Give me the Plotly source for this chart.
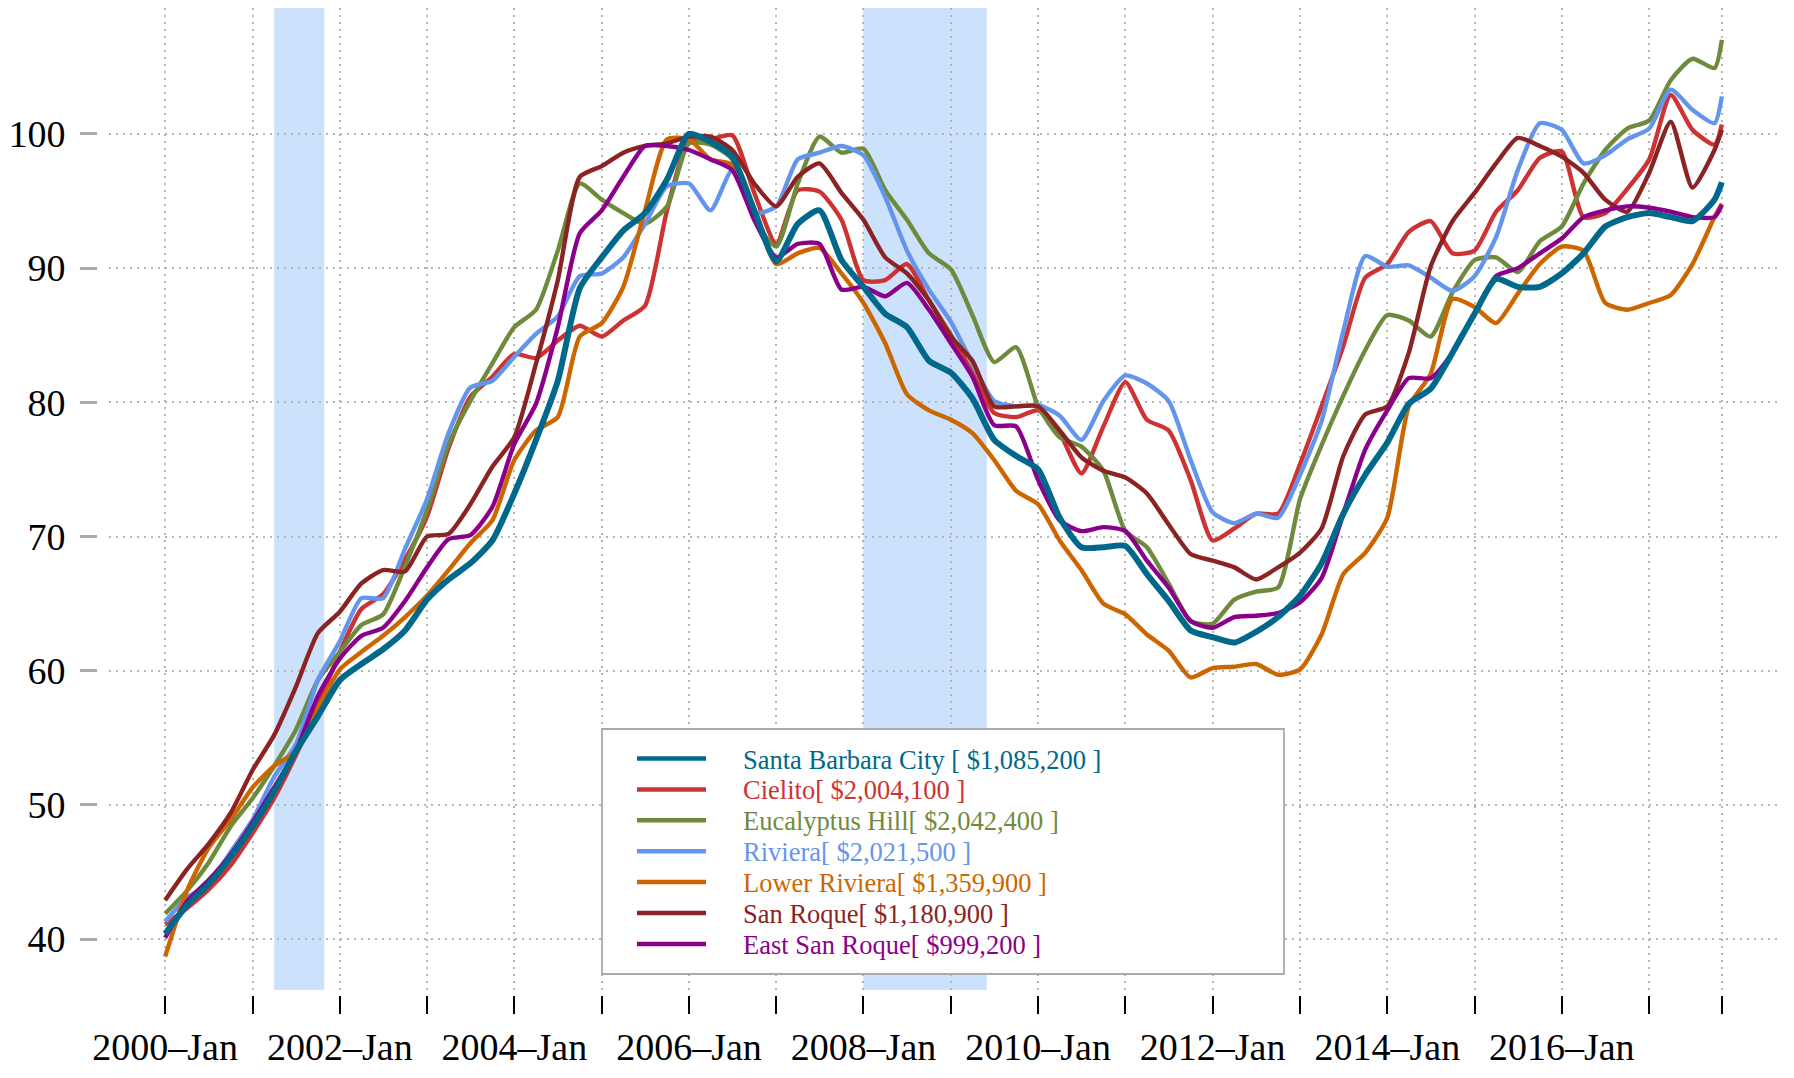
import plotly.graph_objects as go
import pandas as pd

# ---------------- data (quarterly readings, index = 100 at peak) ----------------
quarters = pd.date_range("2000-01-01", "2017-10-01", freq="QS").strftime("%Y-%m-%d").tolist()
dates = quarters + ["2017-11-01"]

santa_barbara = [40.4, 42.5, 44.1, 46.1, 48.4, 51.0, 54.0, 56.6, 59.3, 60.5, 61.6, 63.0,
                 65.3, 66.8, 68.0, 69.7, 73.2, 77.2, 81.6, 88.5, 90.8, 92.8, 94.1, 96.6,
                 100.0, 99.4, 98.3, 94.3, 90.5, 93.3, 94.3, 90.6, 88.6, 86.6, 85.6, 83.1,
                 82.2, 80.3, 77.2, 76.0, 75.0, 71.4, 69.2, 69.2, 69.3, 67.2, 65.2, 63.0,
                 62.5, 62.1, 62.9, 64.0, 65.6, 68.0, 71.7, 74.6, 77.0, 79.9, 81.0, 83.7,
                 86.6, 89.2, 88.6, 88.6, 89.6, 91.1, 93.1, 93.8, 94.1, 93.8, 93.5, 95.1, 96.4]
cielito = [41.1, 42.3, 43.7, 45.5, 47.9, 50.5, 53.7, 57.3, 61.4, 64.6, 65.7, 68.3,
           71.5, 76.6, 80.4, 81.9, 83.6, 83.3, 84.6, 85.7, 84.9, 86.1, 87.2, 94.3,
           99.5, 99.6, 99.9, 95.6, 91.8, 95.8, 95.7, 93.6, 89.1, 89.1, 90.3, 87.6,
           85.0, 82.2, 79.2, 78.9, 79.4, 77.7, 74.7, 78.2, 81.5, 78.7, 77.9, 74.2,
           69.7, 70.6, 71.7, 71.7, 75.4, 79.7, 84.2, 89.3, 90.3, 92.7, 93.5, 91.1,
           91.3, 94.2, 95.8, 98.2, 98.7, 93.8, 94.1, 95.9, 98.1, 102.9, 100.3, 99.2, 100.7]
eucalyptus_hill = [41.9, 43.6, 45.7, 48.4, 50.5, 52.9, 55.6, 59.3, 61.4, 63.4, 64.2, 67.8,
                   72.0, 76.9, 80.1, 82.9, 85.6, 86.9, 91.3, 96.3, 95.1, 94.1, 93.3, 94.6,
                   99.3, 99.2, 98.1, 93.6, 91.6, 96.3, 99.8, 98.6, 98.9, 95.8, 93.6, 91.1,
                   89.9, 86.5, 83.0, 84.1, 79.7, 77.4, 76.7, 74.9, 70.4, 69.2, 66.5, 63.7,
                   63.5, 65.3, 65.9, 66.2, 72.8, 76.8, 80.5, 83.9, 86.5, 86.1, 84.9, 88.2,
                   90.6, 90.8, 89.7, 92.0, 93.1, 96.3, 98.8, 100.4, 101.0, 104.0, 105.6, 104.9, 107.0]
riviera = [41.3, 43.1, 44.1, 46.5, 48.9, 52.1, 54.5, 59.3, 62.2, 65.4, 65.4, 69.1,
           72.8, 77.7, 81.1, 81.6, 83.4, 85.1, 86.4, 89.4, 89.6, 90.8, 93.3, 96.1,
           96.3, 94.3, 97.3, 94.1, 94.6, 98.1, 98.6, 99.1, 98.4, 95.3, 91.3, 88.4,
           86.0, 82.9, 80.1, 79.7, 79.8, 79.0, 77.2, 80.1, 82.0, 81.4, 80.1, 75.7,
           71.8, 71.0, 71.7, 71.4, 74.6, 78.6, 85.3, 90.9, 90.1, 90.2, 89.3, 88.3,
           89.4, 92.3, 97.3, 100.8, 100.3, 97.8, 98.4, 99.6, 100.4, 103.3, 101.8, 100.8, 102.8]
lower_riviera = [38.7, 43.6, 46.8, 48.9, 51.3, 52.9, 54.0, 57.2, 60.1, 61.4, 62.6, 64.0,
                 65.6, 67.5, 69.5, 71.2, 75.7, 77.9, 78.9, 84.9, 85.9, 88.6, 94.3, 99.6,
                 99.6, 98.1, 97.7, 94.3, 90.3, 91.1, 91.5, 89.6, 87.4, 84.4, 80.6, 79.4,
                 78.7, 77.7, 75.7, 73.4, 72.4, 69.7, 67.5, 65.0, 64.2, 62.7, 61.5, 59.5,
                 60.2, 60.3, 60.5, 59.7, 60.1, 62.7, 67.2, 68.8, 71.4, 79.7, 82.1, 87.7,
                 87.1, 85.9, 88.1, 90.3, 91.6, 91.3, 87.4, 86.9, 87.4, 88.0, 90.3, 93.8, 94.8]
san_roque = [42.9, 45.2, 47.1, 49.4, 52.6, 55.2, 58.8, 62.8, 64.4, 66.5, 67.5, 67.4,
             70.0, 70.2, 72.4, 75.2, 77.4, 82.9, 89.1, 96.8, 97.6, 98.6, 99.1, 99.3,
             99.8, 99.8, 98.8, 96.3, 94.6, 96.8, 97.8, 95.6, 93.6, 90.8, 89.6, 87.6,
             84.9, 83.1, 79.7, 79.7, 79.7, 77.9, 75.9, 74.9, 74.4, 73.2, 70.9, 68.7,
             68.2, 67.7, 66.8, 67.7, 68.8, 70.6, 76.0, 79.1, 79.7, 83.7, 90.1, 93.5,
             95.6, 97.8, 99.7, 99.1, 98.3, 97.1, 95.1, 94.2, 97.1, 100.9, 96.0, 98.8, 100.3]
east_san_roque = [40.1, 42.8, 44.4, 46.3, 48.7, 51.3, 54.0, 58.1, 60.9, 62.6, 63.2, 65.2,
                  67.7, 69.8, 70.1, 72.2, 76.9, 79.9, 85.6, 92.6, 94.3, 96.8, 99.1, 99.1,
                  98.8, 98.1, 97.3, 93.6, 90.8, 91.8, 91.8, 88.4, 88.6, 87.9, 88.9, 86.9,
                  84.4, 81.9, 78.3, 78.2, 74.2, 71.2, 70.4, 70.7, 70.4, 68.2, 66.2, 63.7,
                  63.2, 64.0, 64.1, 64.3, 65.1, 66.9, 71.7, 76.5, 79.4, 81.8, 81.8, 83.7,
                  86.6, 89.4, 90.0, 91.1, 92.2, 93.8, 94.3, 94.6, 94.5, 94.2, 93.8, 93.8, 94.7]

names = ["Santa Barbara City [ $1,085,200 ]", "Cielito[ $2,004,100 ]",
         "Eucalyptus Hill[ $2,042,400 ]", "Riviera[ $2,021,500 ]",
         "Lower Riviera[ $1,359,900 ]", "San Roque[ $1,180,900 ]",
         "East San Roque[ $999,200 ]"]
series = [santa_barbara, cielito, eucalyptus_hill, riviera, lower_riviera, san_roque, east_san_roque]
colors = ["#00688B", "#CD3333", "#6E8B3D", "#6495ED", "#CD6600", "#8B2323", "#8B008B"]
widths = [6.0, 4.4, 4.4, 4.4, 4.4, 4.4, 4.4]

recessions = [("2001-04-01", "2001-10-28"), ("2007-12-31", "2009-05-31")]

year_ticks = [f"{y}-01-01" for y in range(2000, 2018)] + ["2017-11-01"]
year_labels = [(f"{y}\u2013Jan" if y % 2 == 0 else "") for y in range(2000, 2018)] + [""]
y_ticks = [40, 50, 60, 70, 80, 90, 100]

# ---------------- layout geometry (page has an 8px body margin) ----------------
OFF = 8
W, H = 1794 - 2 * OFF, 1078 - 2 * OFF
ML, MR, MT, MB = 89, 7, 0, 75
PW, PH = W - ML - MR, H - MT - MB


def px(xs):
    return (xs - OFF - ML) / PW


def py(ys):
    return (H - MB - (ys - OFF)) / PH


dx0 = px(109)
dy0 = py(990)
x_range = ["1999-05-11", "2018-06-28"]
y_range = [36.21, 109.38]
FONT = "Liberation Serif, Times New Roman, serif"

fig = go.Figure()
order = [1, 2, 3, 4, 5, 6, 0]
for i in order:
    fig.add_trace(go.Scatter(x=dates, y=series[i], mode="lines", name=names[i],
                             line=dict(color=colors[i], width=widths[i],
                                       shape="spline", smoothing=0.6),
                             xaxis="x", yaxis="y", showlegend=False))
# invisible trace so that the outer tick axes render
fig.add_trace(go.Scatter(x=[dates[0]], y=[santa_barbara[0]], mode="markers",
                         marker=dict(opacity=0), xaxis="x2", yaxis="y2",
                         hoverinfo="skip", showlegend=False))

shapes = []
for a, b in recessions:
    shapes.append(dict(type="rect", xref="x", yref="paper", x0=a, x1=b, y0=dy0, y1=1,
                       fillcolor="#CCE1FB", line=dict(width=0), layer="below"))

# legend (drawn manually)
bx0, bx1, by0, by1 = 602, 1284, 729, 974
shapes.append(dict(type="rect", xref="paper", yref="paper", x0=px(bx0), x1=px(bx1),
                   y0=py(by1), y1=py(by0), fillcolor="white",
                   line=dict(color="#AAAAAA", width=1.8), layer="above"))
annotations = []
for k in range(len(names)):
    yc = 758.5 + k * 30.9
    shapes.append(dict(type="line", xref="paper", yref="paper", x0=px(637), x1=px(706),
                       y0=py(yc), y1=py(yc), line=dict(color=colors[k], width=4.5),
                       layer="above"))
    annotations.append(dict(xref="paper", yref="paper", x=px(741), y=py(yc + 1),
                            xanchor="left", yanchor="middle", showarrow=False,
                            text=names[k], font=dict(family=FONT, size=26.5, color=colors[k])))

grid = dict(showgrid=True, gridcolor="#B5B5B5", gridwidth=1.6, griddash="2px,5px")

fig.update_layout(
    width=W, height=H,
    margin=dict(l=ML, r=MR, t=MT, b=MB, autoexpand=False),
    paper_bgcolor="white", plot_bgcolor="rgba(0,0,0,0)",
    showlegend=False,
    shapes=shapes, annotations=annotations,
    xaxis=dict(type="date", range=x_range, domain=[dx0, 1], anchor="y",
               tickvals=year_ticks, showticklabels=False, ticks="", automargin=False,
               zeroline=False, showline=False, **grid),
    yaxis=dict(range=y_range, domain=[dy0, 1], anchor="x", tickvals=y_ticks, automargin=False,
               showticklabels=False, ticks="", zeroline=False, showline=False, **grid),
    xaxis2=dict(type="date", range=x_range, domain=[dx0, 1], overlaying="x",
                anchor="free", position=0, tickvals=year_ticks, ticktext=year_labels,
                ticks="outside", ticklen=18, tickwidth=1.6, tickcolor="black",
                showgrid=False, zeroline=False, showline=False, automargin=False,
                tickfont=dict(family=FONT, size=38, color="black"),
                ticklabelstandoff=0),
    yaxis2=dict(range=y_range, domain=[dy0, 1], overlaying="y", anchor="free",
                position=0, side="left", tickvals=y_ticks, automargin=False,
                ticks="outside", ticklen=17, tickwidth=2.5, tickcolor="#AAAAAA",
                showgrid=False, zeroline=False, showline=False,
                tickfont=dict(family=FONT, size=38, color="black"),
                ticklabelstandoff=7),
)

fig.write_html("out.html")
